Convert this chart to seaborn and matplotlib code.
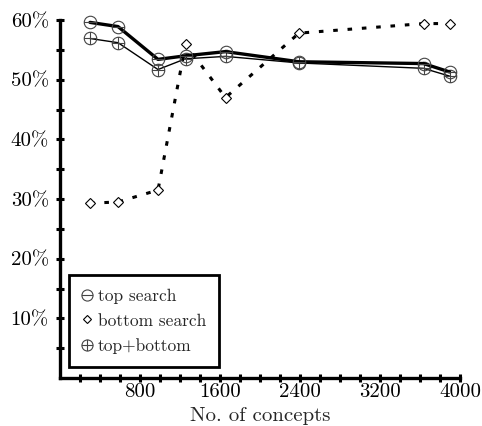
import matplotlib
matplotlib.use("Agg")
import matplotlib.pyplot as plt
from matplotlib.path import Path
from matplotlib.lines import Line2D
import seaborn as sns
import pandas as pd

concepts = [300, 580, 980, 1255, 1655, 2390, 3635, 3895]
top_search = [59.6, 58.9, 53.4, 54.0, 54.7, 53.0, 52.7, 51.3]
bottom_search = [29.3, 29.5, 31.5, 55.9, 47.0, 57.8, 59.4, 59.4]
top_bottom = [56.9, 56.2, 51.7, 53.5, 53.9, 52.8, 51.9, 50.6]

x_ticks = list(range(200, 4001, 200))
x_labels = ["800", "1600", "2400", "3200", "4000"]
y_ticks = list(range(5, 61, 5))
y_labels = ["10%", "20%", "30%", "40%", "50%", "60%"]

sns.set_style("white")
plt.rcParams["font.family"] = ["cmr10", "DejaVu Serif"]
plt.rcParams["mathtext.fontset"] = "cm"
plt.rcParams["axes.formatter.use_mathtext"] = True

circ = Path.unit_circle()
minus_marker = Path.make_compound_path(circ, Path([[-1, 0], [1, 0]], [Path.MOVETO, Path.LINETO]))
plus_marker = Path.make_compound_path(
    circ,
    Path([[-1, 0], [1, 0]], [Path.MOVETO, Path.LINETO]),
    Path([[0, -1], [0, 1]], [Path.MOVETO, Path.LINETO]),
)

fig = plt.figure(figsize=(4.82, 4.26), dpi=100)
ax = fig.add_axes([60 / 482, 48 / 426, 400 / 482, 358 / 426])

mk_col = "#444444"
df_top = pd.DataFrame({"x": concepts, "y": top_search})
df_bot = pd.DataFrame({"x": concepts, "y": bottom_search})
df_tb = pd.DataFrame({"x": concepts, "y": top_bottom})

sns.lineplot(data=df_tb, x="x", y="y", ax=ax, sort=False, color="black", lw=1.0,
             marker=plus_marker, markersize=9, mfc="none", mec=mk_col, mew=0.8,
             clip_on=False)
sns.lineplot(data=df_bot, x="x", y="y", ax=ax, sort=False, color="black", lw=2.2,
             linestyle=(0, (1.5, 3.2)), marker="D", markersize=5, mfc="white",
             mec="black", mew=0.8, clip_on=False)
sns.lineplot(data=df_top, x="x", y="y", ax=ax, sort=False, color="black", lw=2.4,
             marker=minus_marker, markersize=9, mfc="none", mec=mk_col, mew=0.8,
             clip_on=False)

ax.set_xlim(0, 4000)
ax.set_ylim(0, 60)
ax.set_xticks(x_ticks)
ax.set_xticklabels([str(t) if str(t) in x_labels else "" for t in x_ticks])
ax.set_yticks(y_ticks)
ax.set_yticklabels([f"{t}%" if f"{t}%" in y_labels else "" for t in y_ticks])
ax.tick_params(axis="both", direction="inout", length=6, width=2.2, labelsize=15,
               colors="black", bottom=True, left=True, top=False, right=False)
ax.tick_params(axis="x", pad=1)
ax.tick_params(axis="y", pad=5)
for side in ["top", "right"]:
    ax.spines[side].set_visible(False)
for side in ["left", "bottom"]:
    ax.spines[side].set_linewidth(2.4)
    ax.spines[side].set_color("black")

ax.set_xlabel("No. of concepts", fontsize=15, labelpad=4)
ax.set_ylabel("")

handles = [
    Line2D([], [], ls="none", marker=minus_marker, markersize=8, mfc="none", mec=mk_col, mew=0.8),
    Line2D([], [], ls="none", marker="D", markersize=4.5, mfc="white", mec="black", mew=0.8),
    Line2D([], [], ls="none", marker=plus_marker, markersize=8, mfc="none", mec=mk_col, mew=0.8),
]
leg = ax.legend(handles, ["top search", "bottom search", "top+bottom"],
                loc="lower left", bbox_to_anchor=(0.0225, 0.031), borderaxespad=0,
                frameon=True, fancybox=False, framealpha=1, prop={"size": 12.5},
                handlelength=0.6, handletextpad=0.3, borderpad=0.75, labelspacing=0.55)
leg.get_frame().set_edgecolor("black")
leg.get_frame().set_linewidth(2.0)

fig.savefig("out.png", dpi=100)
